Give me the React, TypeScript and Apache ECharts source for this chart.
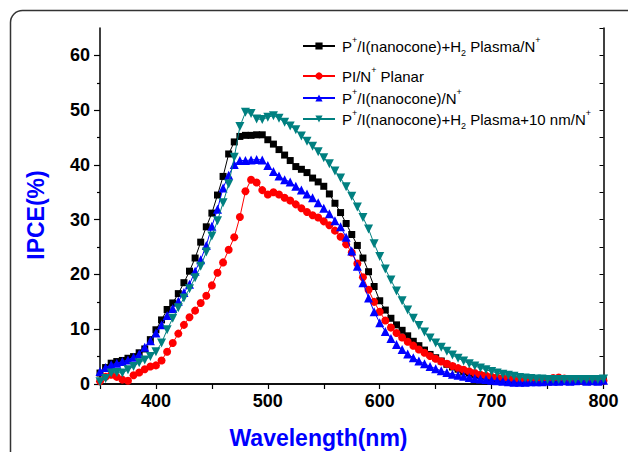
import React, { useEffect, useRef } from "react";
import * as echarts from "echarts";

const wavelengths = [
  350, 355, 360, 365, 370, 375, 380, 385, 390, 395, 400, 405, 410, 415, 420, 425, 430, 435, 440, 445,
  450, 455, 460, 465, 470, 475, 480, 485, 490, 495, 500, 505, 510, 515, 520, 525, 530, 535, 540, 545,
  550, 555, 560, 565, 570, 575, 580, 585, 590, 595, 600, 605, 610, 615, 620, 625, 630, 635, 640, 645,
  650, 655, 660, 665, 670, 675, 680, 685, 690, 695, 700, 705, 710, 715, 720, 725, 730, 735, 740, 745,
  750, 755, 760, 765, 770, 775, 780, 785, 790, 795, 800,
];

const plasmaN = [
  2.0, 3.0, 3.8, 4.1, 4.3, 4.7, 5.0, 5.7, 6.4, 8.1, 9.9, 11.7, 13.6, 14.8, 16.5, 18.5, 20.6, 23.0, 25.9, 28.7,
  31.2, 34.5, 37.9, 42.0, 44.2, 45.2, 45.4, 45.4, 45.5, 45.5, 44.6, 43.8, 42.8, 41.8, 40.8, 39.7, 39.2, 38.6, 37.6, 36.9,
  36.1, 34.7, 33.0, 31.3, 29.3, 27.3, 25.3, 23.0, 20.5, 17.8, 15.2, 13.5, 12.0, 10.8, 9.8, 8.8, 7.8, 7.0, 6.2, 5.4,
  4.8, 4.2, 3.6, 3.1, 2.7, 2.3, 2.0, 1.7, 1.5, 1.3, 1.1, 1.0, 0.9, 0.8, 0.7, 0.7, 0.6, 0.6, 0.6, 0.5,
  0.5, 0.5, 0.6, 0.6, 0.6, 0.6, 0.6, 0.6, 0.6, 0.6, 0.6,
];

const planar = [
  0.5, 1.3, 1.7, 1.3, 0.8, 0.6, 1.6, 2.1, 2.7, 3.2, 3.4, 4.3, 5.9, 7.5, 9.2, 10.8, 12.2, 13.4, 14.8, 16.1,
  18.0, 20.3, 22.2, 24.5, 26.8, 30.5, 35.2, 37.3, 36.8, 35.4, 34.6, 35.0, 34.6, 34.0, 33.5, 32.8, 32.1, 31.4, 30.8, 30.4,
  29.7, 29.0, 28.0, 26.9, 25.5, 24.0, 22.0, 19.5, 17.2, 15.0, 13.2, 11.6, 10.3, 9.3, 8.5, 7.7, 7.0, 6.3, 5.7, 5.1,
  4.6, 4.1, 3.7, 3.3, 2.9, 2.6, 2.3, 2.0, 1.7, 1.5, 1.3, 1.2, 1.1, 1.0, 0.9, 0.8, 0.8, 0.7, 0.7, 0.8,
  0.9, 1.1, 1.2, 1.0, 0.8, 0.7, 0.6, 0.6, 0.6, 0.6, 0.6,
];

const nanocone = [
  2.3, 3.0, 3.5, 3.8, 4.1, 4.4, 4.9, 5.5, 6.7, 7.9, 9.3, 10.8, 12.5, 13.8, 15.1, 16.7, 18.2, 20.6, 22.7, 25.3,
  28.8, 31.9, 35.8, 38.1, 40.1, 40.8, 40.8, 40.9, 41.0, 40.9, 39.9, 38.8, 38.0, 37.3, 36.9, 36.1, 35.4, 34.7, 34.0, 33.1,
  32.1, 31.1, 29.8, 28.7, 26.8, 24.3, 21.5, 18.5, 15.7, 13.2, 11.2, 9.6, 8.3, 7.2, 6.3, 5.5, 4.8, 4.2, 3.7, 3.2,
  2.8, 2.4, 2.1, 1.8, 1.6, 1.4, 1.2, 1.0, 0.9, 0.8, 0.7, 0.6, 0.5, 0.4, 0.3, 0.3, 0.3, 0.4, 0.4, 0.4,
  0.5, 0.5, 0.5, 0.6, 0.5, 0.6, 0.7, 0.5, 0.6, 0.5, 0.7,
];

const plasma10nm = [
  0.4, 1.0, 2.0, 2.1, 2.0, 2.6, 3.2, 3.9, 4.4, 5.0, 5.9, 7.5, 9.9, 12.0, 13.9, 15.7, 17.4, 19.4, 21.5, 24.1,
  27.0, 29.8, 33.1, 36.5, 41.4, 47.0, 49.6, 49.4, 48.4, 48.3, 48.7, 49.0, 48.5, 47.8, 47.1, 46.4, 45.3, 44.3, 43.4, 42.4,
  41.3, 40.2, 38.9, 37.6, 36.0, 34.3, 32.3, 30.4, 28.3, 25.6, 23.3, 21.0, 19.0, 17.0, 15.2, 13.5, 12.0, 10.7, 9.5, 8.4,
  7.5, 6.7, 6.0, 5.3, 4.7, 4.2, 3.7, 3.3, 2.9, 2.6, 2.3, 2.0, 1.8, 1.6, 1.4, 1.2, 1.1, 1.0, 0.9, 0.9,
  0.8, 0.8, 0.8, 0.8, 0.8, 0.8, 0.8, 0.8, 0.8, 0.8, 0.9,
];

const seriesNames = [
  "P+/I(nanocone)+H2 Plasma/N+",
  "PI/N+ Planar",
  "P+/I(nanocone)/N+",
  "P+/I(nanocone)+H2 Plasma+10 nm/N+",
];

const legendRich = [
  "P{sup|+}/I(nanocone)+H{sub|2} Plasma/N{sup|+}",
  "PI/N{sup|+} Planar",
  "P{sup|+}/I(nanocone)/N{sup|+}",
  "P{sup|+}/I(nanocone)+H{sub|2} Plasma+10 nm/N{sup|+}",
];

const yMajorTicks = [0, 10, 20, 30, 40, 50, 60];
const yMinorTicks = [5, 15, 25, 35, 45, 55];
const xTitle = "Wavelength(nm)";
const yTitle = "IPCE(%)";

const FONT = "'Liberation Sans', Arial, Helvetica, sans-serif";

export default function App() {
  const ref = useRef<HTMLDivElement>(null);

  useEffect(() => {
    if (!ref.current) return;
    const chart = echarts.init(ref.current, undefined, { renderer: "svg" });

    const colors = ["#000000", "#ff0000", "#0000ff", "#008080"];
    const symbols = ["rect", "circle", "triangle", "triangle"];
    const rotates = [0, 0, 0, 180];
    const sizes = [7, 8, 9, 9];
    const values = [plasmaN, planar, nanocone, plasma10nm];

    const series = seriesNames.map((name, k) => ({
      name,
      type: "line",
      xAxisIndex: 0,
      yAxisIndex: 0,
      data: wavelengths.map((w, i) => [w, values[k][i]]),
      symbol: symbols[k],
      symbolRotate: rotates[k],
      symbolSize: sizes[k],
      showAllSymbol: true,
      lineStyle: { color: colors[k], width: 1 },
      itemStyle: { color: colors[k] },
      z: 2 + k,
    }));

    const legendTops = [46, 76, 98, 119];
    const legends = seriesNames.map((name, k) => ({
      data: [name],
      left: 302,
      top: legendTops[k] - 11,
      padding: 0,
      itemWidth: 32,
      itemHeight: 9,
      itemGap: 0,
      formatter: () => legendRich[k],
      textStyle: {
        fontFamily: FONT,
        fontSize: 15,
        lineHeight: 22,
        color: "#000",
        padding: [0, 0, 0, 2],
        rich: {
          sup: { fontFamily: FONT, fontSize: 9, lineHeight: 9, verticalAlign: "top", color: "#000" },
          sub: { fontFamily: FONT, fontSize: 9, lineHeight: 9, verticalAlign: "bottom", color: "#000" },
        },
      },
    }));

    const axisLine = { show: true, lineStyle: { color: "#000", width: 1.5 } };

    chart.setOption({
      animation: false,
      backgroundColor: "#fff",
      grid: { left: 100, top: 28, right: 24.5, bottom: 68, containLabel: false },
      legend: legends,
      xAxis: [
        {
          type: "value",
          position: "bottom",
          min: 350,
          max: 800,
          interval: 50,
          axisLine,
          axisTick: { show: true, inside: false, length: 5, lineStyle: { color: "#000", width: 1.2 } },
          axisLabel: {
            margin: 8,
            fontFamily: FONT,
            fontSize: 18,
            fontWeight: "bold",
            color: "#000",
            formatter: (v: number) => (v % 100 === 0 ? String(v) : ""),
          },
          splitLine: { show: false },
        },
        {
          type: "value",
          position: "top",
          min: 350,
          max: 800,
          interval: 50,
          axisLine,
          axisTick: { show: true, inside: true, length: 4, lineStyle: { color: "#000", width: 1 } },
          axisLabel: { show: false },
          splitLine: { show: false },
        },
      ],
      yAxis: [
        {
          type: "value",
          position: "left",
          min: 0,
          max: 65,
          interval: 5,
          axisLine,
          axisTick: {
            show: true,
            inside: false,
            length: 6,
            customValues: yMajorTicks,
            lineStyle: { color: "#000", width: 1.2 },
          },
          axisLabel: {
            margin: 10,
            fontFamily: FONT,
            fontSize: 18,
            fontWeight: "bold",
            color: "#000",
            customValues: yMajorTicks,
            formatter: (v: number) => (v % 10 === 0 ? String(v) : ""),
          },
          splitLine: { show: false },
        },
        {
          type: "value",
          position: "right",
          min: 0,
          max: 65,
          interval: 5,
          axisLine,
          axisTick: { show: true, inside: true, length: 4, lineStyle: { color: "#000", width: 1 } },
          axisLabel: { show: false },
          splitLine: { show: false },
        },
        {
          type: "value",
          position: "left",
          min: 0,
          max: 65,
          interval: 5,
          axisLine: { show: false },
          axisTick: {
            show: true,
            inside: false,
            length: 3,
            customValues: yMinorTicks,
            lineStyle: { color: "#000", width: 1.2 },
          },
          axisLabel: { show: false },
          splitLine: { show: false },
        },
      ],
      graphic: [
        {
          type: "rect",
          silent: true,
          shape: { x: 10.5, y: 10.5, width: 660, height: 500, r: 12 },
          style: { fill: "none", stroke: "#333", lineWidth: 1.5 },
          z: 100,
        },
        {
          type: "text",
          x: 318.5,
          y: 438,
          style: {
            text: xTitle,
            fontFamily: FONT,
            fontSize: 23,
            fontWeight: "bold",
            fill: "#0000ff",
            textAlign: "center",
            textVerticalAlign: "middle",
          },
        },
        {
          type: "text",
          x: 36,
          y: 215,
          rotation: Math.PI / 2,
          style: {
            text: yTitle,
            fontFamily: FONT,
            fontSize: 23,
            fontWeight: "bold",
            fill: "#0000ff",
            textAlign: "center",
            textVerticalAlign: "middle",
          },
        },
      ],
      series,
    });

    return () => chart.dispose();
  }, []);

  return (
    <div
      ref={ref}
      style={{ position: "absolute", left: 0, top: 0, width: 628, height: 452 }}
    />
  );
}
